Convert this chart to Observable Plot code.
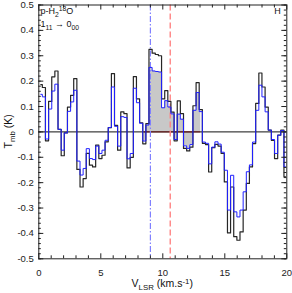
<!DOCTYPE html>
<html><head><meta charset="utf-8">
<script src="https://cdn.jsdelivr.net/npm/d3@7"></script>
<script src="https://cdn.jsdelivr.net/npm/@observablehq/plot@0.6"></script>
<style>html,body{margin:0;padding:0;background:#fff}</style>
</head><body><div id="chart"></div>
<script>
// Channel centre velocities (km/s)
const velocity = [0.16,0.41,0.66,0.92,1.17,1.42,1.68,1.93,2.18,2.44,2.69,2.94,3.20,3.45,3.70,3.95,4.21,4.46,4.71,4.97,
5.22,5.47,5.73,5.98,6.23,6.48,6.74,6.99,7.24,7.50,7.75,8.00,8.26,8.51,8.76,9.01,9.27,9.52,9.77,10.03,
10.28,10.53,10.78,11.04,11.29,11.54,11.80,12.05,12.30,12.56,12.81,13.06,13.32,13.57,13.82,14.07,14.33,14.58,14.83,15.09,
15.34,15.59,15.85,16.10,16.35,16.61,16.86,17.11,17.36,17.62,17.87,18.12,18.38,18.63,18.88,19.14,19.39,19.64,19.90];
// Observed spectrum (black)
const tBlack = [0.186,0.175,-0.035,0.12,0.217,0.24,0.01,-0.094,-0.004,0.098,0.144,0.21,-0.148,-0.217,-0.184,-0.085,-0.131,-0.138,-0.052,-0.105,
-0.092,-0.039,0.017,0.23,0.026,-0.072,0.079,0.072,-0.142,-0.1,0.218,0.13,0.036,-0.047,0.033,0.325,0.31,0.305,0.30,0.13,
0.163,0.12,0.078,-0.035,0.122,0.072,-0.065,-0.075,-0.06,0.103,0.194,0.088,-0.045,-0.05,-0.158,-0.062,-0.049,-0.056,-0.085,-0.197,
-0.398,-0.217,-0.413,-0.427,-0.394,-0.308,-0.203,-0.138,-0.046,0.112,0.232,0.177,0.098,0.007,-0.033,-0.105,-0.013,0.007,-0.177];
// Second spectrum (blue)
const tBlue = [0.148,0.138,-0.028,0.09,0.161,0.188,0.01,-0.072,-0.004,0.081,0.118,0.164,-0.115,-0.17,-0.144,-0.066,-0.105,-0.109,-0.056,-0.085,
-0.072,-0.033,0.017,0.177,0.022,-0.056,0.06,0.057,-0.106,-0.085,0.172,0.115,0.034,-0.036,0.027,0.254,0.24,0.238,0.236,0.095,
0.123,0.098,0.071,-0.03,0.07,0.05,-0.055,-0.065,-0.05,0.085,0.155,0.08,-0.04,-0.045,-0.126,-0.06,-0.039,-0.048,-0.08,-0.151,
-0.308,-0.171,-0.315,-0.335,-0.308,-0.236,-0.157,-0.13,-0.04,0.085,0.184,0.138,0.079,0.007,-0.03,-0.085,-0.013,0.005,-0.138];
const fillRange = [8.51, 13.06];   // shaded integration window
const vSource = 9.0;               // blue dash-dot marker
const vOther = 10.6;               // red dashed marker
const xTicks = [0,5,10,15,20];
const xTickLabels = ["0","5","10","15","20"];
const xMinor = [1,2,3,4,6,7,8,9,11,12,13,14,16,17,18,19];
const yTicks = [-0.5,-0.4,-0.3,-0.2,-0.1,0,0.1,0.2,0.3,0.4,0.5];
const yTickLabels = ["-0.5","-0.4","-0.3","-0.2","-0.1","0","0.1","0.2","0.3","0.4","0.5"];
const yMinor = d3.range(-0.5, 0.5001, 0.02);

const W = 292, H = 293;
const m = {top: 4.5, right: 5.7, bottom: 34.7, left: 38.3};
const fw = W - m.left - m.right, fh = H - m.top - m.bottom;

const rows = velocity.map((v, i) => ({v, black: tBlack[i], blue: tBlue[i]}));
const fillRows = rows.filter(d => d.v >= fillRange[0] - 1e-6 && d.v <= fillRange[1] + 1e-6);

const plot = Plot.plot({
  width: W, height: H,
  marginTop: m.top, marginRight: m.right, marginBottom: m.bottom, marginLeft: m.left,
  x: {domain: [0, 20], axis: null},
  y: {domain: [-0.5, 0.5], axis: null},
  style: {fontFamily: "'Liberation Sans', Arial, sans-serif", fontSize: "9.5px", background: "#fff", color: "#222"},
  marks: [
    Plot.areaY(fillRows, {x: "v", y1: 0, y2: "blue", curve: "step", fill: "#c8c8c8"}),
    Plot.ruleY([0], {stroke: "#111", strokeWidth: 1}),
    Plot.ruleY([0], {x1: fillRange[0], x2: fillRange[1], stroke: "#6b1010", strokeWidth: 1}),
    Plot.ruleX([vSource], {stroke: "#8080ff", strokeWidth: 1.2, strokeDasharray: "6,2,1.5,2"}),
    Plot.ruleX([vOther], {stroke: "#ff8484", strokeWidth: 1.4, strokeDasharray: "6,3"}),
    Plot.line(rows, {x: "v", y: "black", curve: "step", stroke: "#262626", strokeWidth: 1.2}),
    Plot.line(rows, {x: "v", y: "blue", curve: "step", stroke: "#2020ff", strokeWidth: 1}),
    Plot.frame({stroke: "#222", strokeWidth: 1}),
    // inward ticks: left / right
    Plot.tickY(yTicks, {y: d => d, insetRight: fw - 5, stroke: "#222"}),
    Plot.tickY(yMinor, {y: d => d, insetRight: fw - 2.5, stroke: "#222"}),
    Plot.tickY(yTicks, {y: d => d, insetLeft: fw - 5, stroke: "#222"}),
    Plot.tickY(yMinor, {y: d => d, insetLeft: fw - 2.5, stroke: "#222"}),
    // inward ticks: bottom / top
    Plot.tickX(xTicks, {x: d => d, insetTop: fh - 5, stroke: "#222"}),
    Plot.tickX(xMinor, {x: d => d, insetTop: fh - 3, stroke: "#222"}),
    Plot.tickX(xTicks, {x: d => d, insetBottom: fh - 5, stroke: "#222"}),
    Plot.tickX(xMinor, {x: d => d, insetBottom: fh - 3, stroke: "#222"}),
    Plot.axisY(yTicks, {anchor: "left", tickSize: 0, tickPadding: 5, label: null,
      tickFormat: d => yTickLabels[yTicks.indexOf(d)], fill: "#222"}),
    Plot.axisX(xTicks, {anchor: "bottom", tickSize: 0, tickPadding: 10, label: null,
      tickFormat: d => xTickLabels[xTicks.indexOf(d)], fill: "#222"})
  ]
});
document.getElementById("chart").appendChild(plot);

const svg = d3.select(plot);
const font = "'Liberation Sans', Arial, sans-serif";
function addText(x, y, size, parts, opts = {}) {
  const t = svg.append("text").attr("x", x).attr("y", y)
    .attr("font-family", font).attr("font-size", size)
    .attr("fill", "#111").style("fill", "#111").attr("stroke", "none")
    .attr("text-anchor", opts.anchor || "start");
  if (opts.rotate) t.attr("transform", `rotate(${opts.rotate},${x},${y})`);
  let shift = 0;
  for (const [s, kind] of parts) {
    const target = kind === "sub" ? 3 : kind === "sup" ? -3.5 : 0;
    const ts = t.append("tspan").text(s).attr("dy", target - shift).style("fill", "#111");
    if (kind) ts.attr("font-size", size * 0.75);
    shift = target;
  }
  return t;
}
// species label
addText(40.5, 14, 9, [["p-H"], ["2", "sub"], ["18", "sup"], ["O"]]);
addText(40.5, 26.5, 9, [["1"], ["11", "sub"], [" \u2192 0"], ["00", "sub"]]);
addText(277.5, 14, 9, [["H"]], {anchor: "middle"});
// axis titles
addText(m.left + fw / 2, 287, 10.5, [["V"], ["LSR", "sub"], [" (km.s"], ["-1", "sup"], [")"]], {anchor: "middle"});
addText(12, m.top + fh / 2, 10.5, [["T"], ["mb", "sub"], [" (K)"]], {anchor: "middle", rotate: -90});
</script>
</body></html>
